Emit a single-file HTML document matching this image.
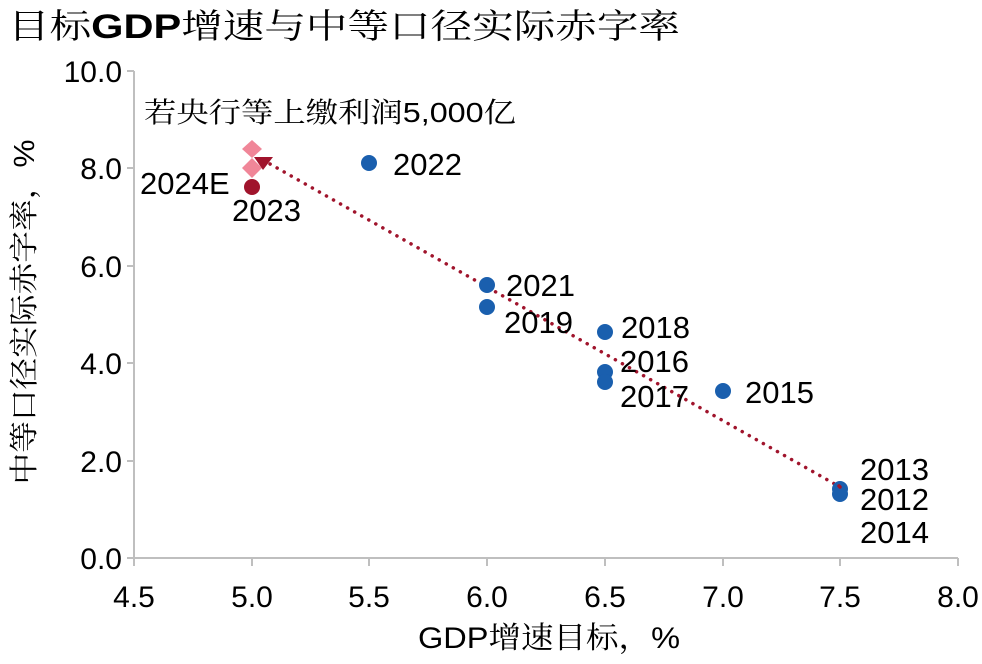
<!DOCTYPE html>
<html><head><meta charset="utf-8"><style>
body{margin:0;background:#fff}
svg text{font-family:"Liberation Sans","Noto Sans CJK SC",sans-serif;fill:#000}
.s{font-family:"Liberation Sans","Noto Serif CJK SC",serif}
</style></head><body>
<svg width="982" height="659" viewBox="0 0 982 659" xmlns="http://www.w3.org/2000/svg">
<text x="8" y="38" font-size="34" class="s" textLength="672" lengthAdjust="spacingAndGlyphs">目标<tspan style="font-weight:bold">GDP</tspan>增速与中等口径实际赤字率</text>
<g stroke="#bfbfbf" stroke-width="2" fill="none">
<line x1="134" y1="71" x2="134" y2="558"/>
<line x1="134" y1="558" x2="958" y2="558"/>
<line x1="127" y1="71" x2="134" y2="71"/><line x1="127" y1="168" x2="134" y2="168"/><line x1="127" y1="266" x2="134" y2="266"/><line x1="127" y1="363" x2="134" y2="363"/><line x1="127" y1="461" x2="134" y2="461"/><line x1="127" y1="558" x2="134" y2="558"/>
<line x1="134" y1="558" x2="134" y2="566"/><line x1="252" y1="558" x2="252" y2="566"/><line x1="369" y1="558" x2="369" y2="566"/><line x1="487" y1="558" x2="487" y2="566"/><line x1="605" y1="558" x2="605" y2="566"/><line x1="723" y1="558" x2="723" y2="566"/><line x1="840" y1="558" x2="840" y2="566"/><line x1="958" y1="558" x2="958" y2="566"/>
</g>
<g font-size="30" text-anchor="end">
<text x="122" y="82">10.0</text><text x="122" y="179">8.0</text><text x="122" y="277">6.0</text><text x="122" y="374">4.0</text><text x="122" y="472">2.0</text><text x="122" y="569">0.0</text>
</g>
<g font-size="30" text-anchor="middle">
<text x="134" y="607">4.5</text><text x="252" y="607">5.0</text><text x="369" y="607">5.5</text><text x="487" y="607">6.0</text><text x="605" y="607">6.5</text><text x="723" y="607">7.0</text><text x="840" y="607">7.5</text><text x="958" y="607">8.0</text>
</g>
<text x="549" y="648" font-size="30" class="s" text-anchor="middle" textLength="262" lengthAdjust="spacingAndGlyphs">GDP增速目标，%</text>
<text transform="translate(34,312) rotate(-90)" font-size="29" class="s" text-anchor="middle" textLength="345" lengthAdjust="spacingAndGlyphs">中等口径实际赤字率，%</text>
<line x1="263" y1="160" x2="840" y2="487" stroke="#a0142c" stroke-width="3.5" stroke-dasharray="0.1 8" stroke-linecap="round"/>
<g fill="#1a5fae">
<circle cx="369" cy="163" r="8"/><circle cx="487" cy="285" r="8"/><circle cx="487" cy="307" r="8"/>
<circle cx="605" cy="332" r="8"/><circle cx="605" cy="372" r="8"/><circle cx="605" cy="382" r="8"/>
<circle cx="723" cy="391" r="8"/><circle cx="840" cy="489" r="8"/><circle cx="840" cy="494" r="8"/>
</g>
<line x1="839" y1="486" x2="840" y2="487" stroke="#a0142c" stroke-width="3.5" stroke-linecap="round"/>
<polygon points="252,140 262,149 252,158 242,149" fill="#f08698"/>
<polygon points="252,158 262,168 252,178 242,168" fill="#f08698"/>
<polygon points="254,157 273,157 263,170" fill="#a0142c"/>
<circle cx="252" cy="187" r="8" fill="#a0142c"/>
<g font-size="31">
<text x="393" y="175">2022</text><text x="506" y="296">2021</text><text x="504" y="333">2019</text>
<text x="621" y="338">2018</text><text x="620" y="372">2016</text><text x="620" y="407">2017</text>
<text x="745" y="403">2015</text><text x="860" y="480">2013</text><text x="860" y="510">2012</text><text x="860" y="543">2014</text>
<text x="140" y="194">2024E</text><text x="232" y="221">2023</text>
</g>
<text x="144" y="122" font-size="28" class="s" textLength="372" lengthAdjust="spacingAndGlyphs">若央行等上缴利润5,000亿</text>
</svg>
</body></html>
